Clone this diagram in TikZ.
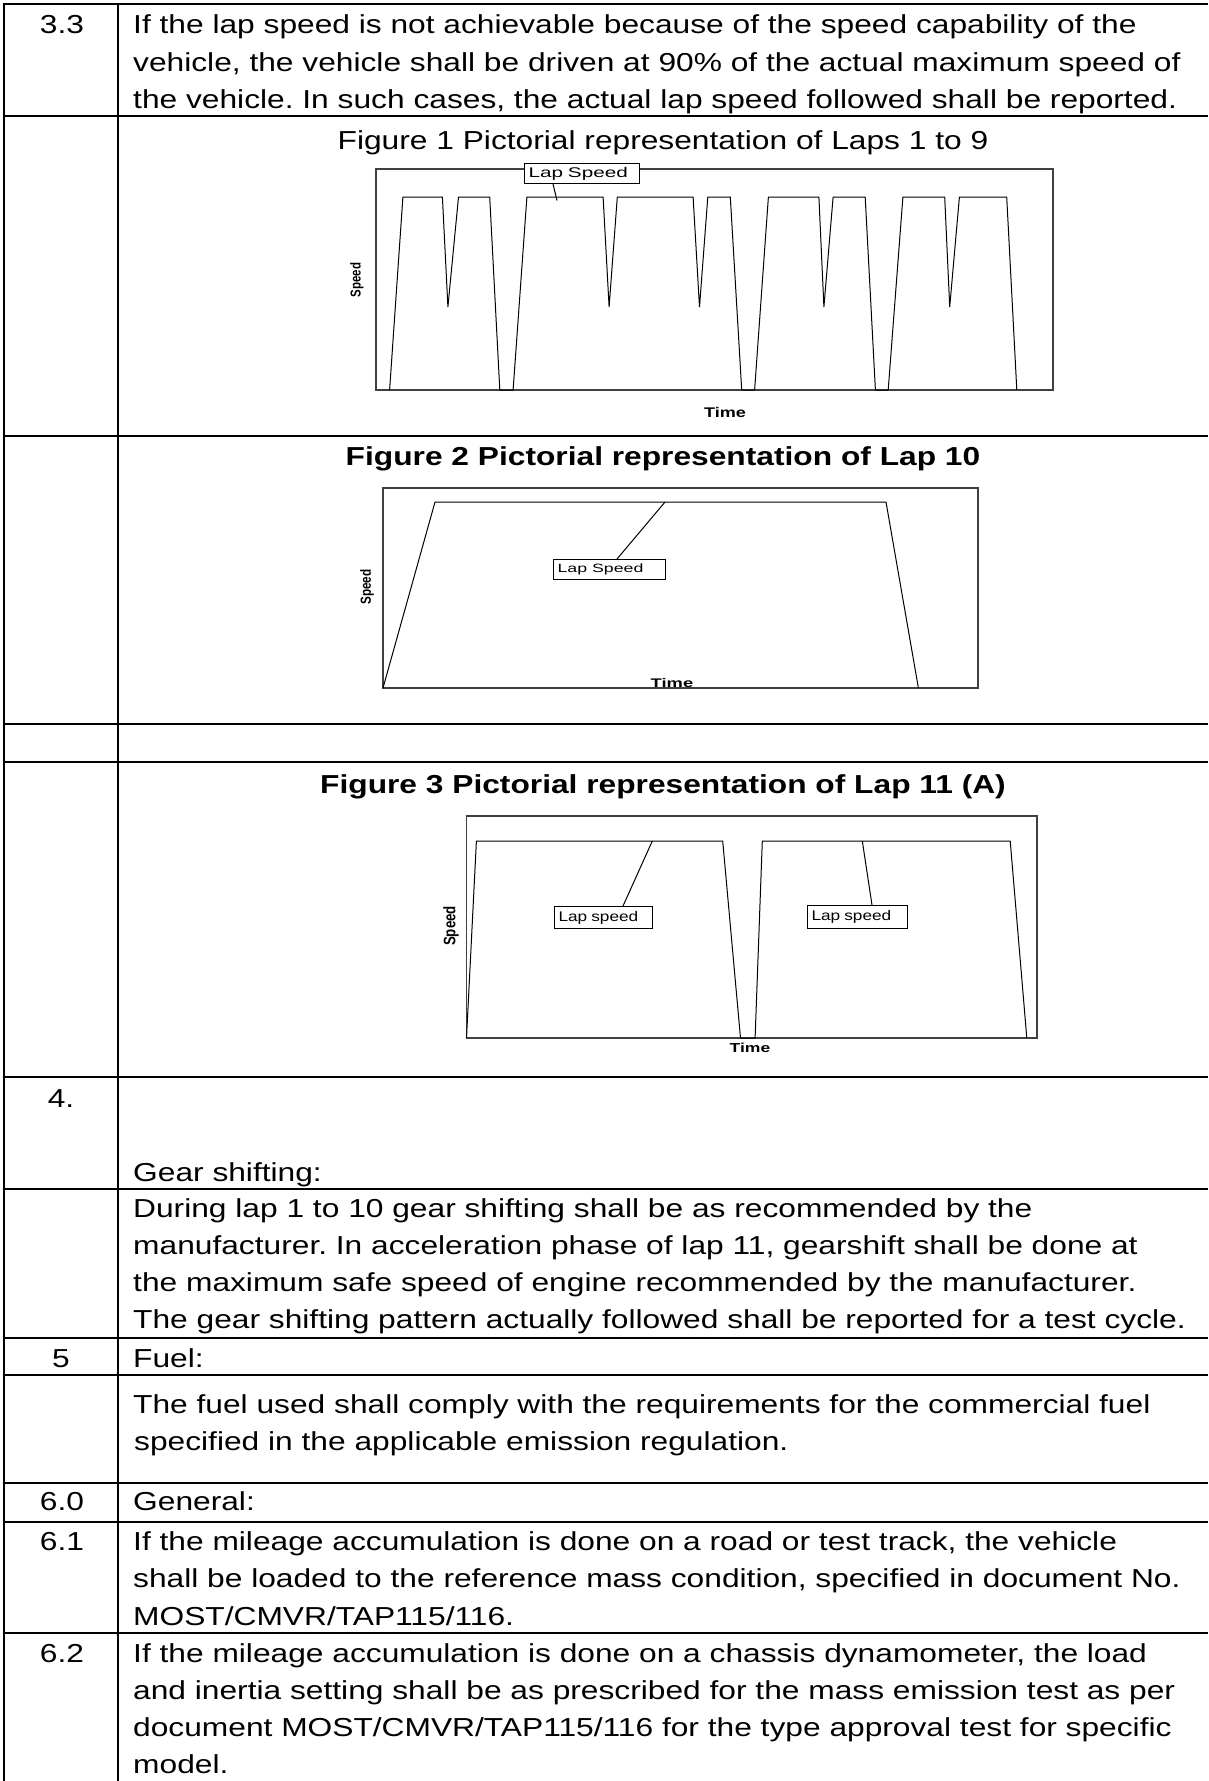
\documentclass[tikz,border=0pt]{standalone}
\usepackage{graphicx}
\usepackage{fontspec}
\setmainfont{Liberation Sans}[FakeStretch=1.22]
\newfontfamily\plainfont{Liberation Sans}
\newcommand\bodysize{\fontsize{26}{37}\selectfont}
\newcommand\chartlbl[3]{{\plainfont\fontsize{#2}{#2}\selectfont\scalebox{#1}[1]{#3}}}
\newcommand\chartbold[3]{{\plainfont\bfseries\fontsize{#2}{#2}\selectfont\scalebox{#1}[1]{#3}}}
\newcommand\axisspeed[1]{{\plainfont\bfseries\fontsize{#1}{#1}\selectfont\scalebox{1}[1.25]{Speed}}}
\frenchspacing
\tikzset{
  rule/.style={line width=2.2pt, black},
  body/.style={anchor=base west, inner sep=0pt, font=\bodysize},
  num/.style={anchor=base, inner sep=0pt, font=\bodysize},
  ftitle/.style={anchor=base, inner sep=0pt, font=\bodysize},
  chartbox/.style={draw=black!75, line width=1.3pt},
  trace/.style={draw=black, line width=1pt, line join=miter},
  lapbox/.style={draw=black, line width=1pt, fill=white, inner xsep=4pt, inner ysep=0pt, align=left, anchor=north west},
  leader/.style={draw=black, line width=1pt},
  axlbl/.style={inner sep=0pt},
}
\begin{document}
\begin{tikzpicture}[x=1pt, y=-1pt]
\useasboundingbox (0,0) rectangle (1208,1781);
\fill[white] (0,0) rectangle (1208,1781);

% ---------- table rules ----------
\draw[rule] (4,3) -- (4,1781);
\draw[rule] (118,4) -- (118,1781);
\draw[rule] (3,4) -- (1208,4);
\foreach \yy in {116,436,724,762,1077,1189,1338,1375,1483,1522,1633}
  \draw[rule] (4,\yy) -- (1208,\yy);

% ---------- row 3.3 ----------
\node[num] (n33) at (62,33) {3.3};
\node[body] (r1a) at (133,33) {If the lap speed is not achievable because of the speed capability of the};
\node[body] (r1b) at (133,71) {vehicle, the vehicle shall be driven at 90\% of the actual maximum speed of};
\node[body] (r1c) at (133,108) {the vehicle. In such cases, the actual lap speed followed shall be reported.};

% ---------- Figure 1 ----------
\node[ftitle] (f1t) at (663,149) {Figure 1 Pictorial representation of Laps 1 to 9};
\draw[chartbox] (376,169) rectangle (1053,390);
\draw[trace] (389.6,390) -- (402.9,197) -- (442.4,197) -- (447.9,307) -- (458.5,197)
  -- (489.7,197) -- (499.8,390) -- (513.1,390) -- (526.9,197) -- (603.1,197)
  -- (609.1,307) -- (617.3,197) -- (693.1,197) -- (699.5,307) -- (707.8,197)
  -- (730.3,197) -- (741.7,390) -- (754.6,390) -- (768.4,197) -- (818.9,197)
  -- (823.9,307) -- (833.1,197) -- (865.2,197) -- (875.4,390) -- (888.2,390)
  -- (902.9,197) -- (944.7,197) -- (949.7,307) -- (959.4,197) -- (1006.7,197)
  -- (1016.8,390);
\node[lapbox, text width=107pt, minimum height=20pt] (lb1) at (524,163) {\chartlbl{1.48}{14}{Lap Speed}};
\coordinate (lp1) at (557,200.5);
\draw[leader] (lb1.south west) ++(29,0) coordinate (lb1s) -- (lp1);
\node[axlbl, rotate=90] (sp1) at (357,280) {\axisspeed{11.5}};
\node[axlbl, anchor=base] (tm1) at (725,417) {\chartbold{1.29}{14}{Time}};

% ---------- Figure 2 ----------
\node[ftitle, font=\bodysize\bfseries] (f2t) at (663,465) {Figure 2 Pictorial representation of Lap 10};
\draw[chartbox] (383,488) rectangle (978,688);
\draw[trace] (383,688) -- (435,502) -- (886,502) -- (918.4,688);
\node[lapbox, text width=104pt, minimum height=20pt] (lb2) at (553,559) {\chartlbl{1.48}{12}{Lap Speed}};
\coordinate (lp2) at (665,502);
\draw[leader] (lb2.north west) ++(64,0) coordinate (lb2n) -- (lp2);
\node[axlbl, rotate=90] (sp2) at (367,587) {\axisspeed{11.7}};
\node[axlbl, anchor=base] (tm2) at (672,687) {\chartbold{1.47}{12.5}{Time}};

% ---------- Figure 3 ----------
\node[ftitle, font=\bodysize\bfseries] (f3t) at (663,793) {Figure 3 Pictorial representation of Lap 11 (A)};
\draw[chartbox] (466.5,816) rectangle (1037,1038);
\draw[trace] (466.5,1038) -- (476.4,841) -- (722.7,841) -- (740.5,1038) -- (755.1,1038)
  -- (762.3,841) -- (1010.2,841) -- (1026.8,1038);
\node[lapbox, text width=89.5pt, minimum height=22pt] (lb3) at (554,906) {\chartlbl{1.23}{14}{Lap speed}};
\node[lapbox, text width=91.5pt, minimum height=23pt] (lb4) at (807,905) {\chartlbl{1.23}{14}{Lap speed}};
\coordinate (lp3) at (652.3,841);
\coordinate (lp4) at (862.3,841);
\draw[leader] (lb3.north west) ++(69,0) coordinate (lb3n) -- (lp3);
\draw[leader] (lb4.north west) ++(65,0) coordinate (lb4n) -- (lp4);
\node[axlbl, rotate=90] (sp3) at (451,926) {\axisspeed{13.3}};
\node[axlbl, anchor=base] (tm3) at (750,1052) {\chartbold{1.35}{13}{Time}};

% ---------- row 4 ----------
\node[num] (n4) at (61,1107) {4.};
\node[body] (r4a) at (133,1181) {Gear shifting:};
\node[body] (r5a) at (133,1217) {During lap 1 to 10 gear shifting shall be as recommended by the};
\node[body] (r5b) at (133,1254) {manufacturer. In acceleration phase of lap 11, gearshift shall be done at};
\node[body] (r5c) at (133,1291) {the maximum safe speed of engine recommended by the manufacturer.};
\node[body] (r5d) at (133,1328) {The gear shifting pattern actually followed shall be reported for a test cycle.};

% ---------- row 5 ----------
\node[num] (n5) at (61,1367) {5};
\node[body] (r6a) at (133,1367) {Fuel:};
\node[body] (r7a) at (133,1413) {The fuel used shall comply with the requirements for the commercial fuel};
\node[body] (r7b) at (134,1450) {specified in the applicable emission regulation.};

% ---------- row 6 ----------
\node[num] (n60) at (62,1510) {6.0};
\node[body] (r8a) at (133,1510) {General:};
\node[num] (n61) at (62,1550) {6.1};
\node[body] (r9a) at (133,1550) {If the mileage accumulation is done on a road or test track, the vehicle};
\node[body] (r9b) at (133,1587) {shall be loaded to the reference mass condition, specified in document No.};
\node[body] (r9c) at (133,1625) {MOST/CMVR/TAP115/116.};
\node[num] (n62) at (62,1662) {6.2};
\node[body] (r10a) at (133,1662) {If the mileage accumulation is done on a chassis dynamometer, the load};
\node[body] (r10b) at (133,1699) {and inertia setting shall be as prescribed for the mass emission test as per};
\node[body] (r10c) at (133,1736) {document MOST/CMVR/TAP115/116 for the type approval test for specific};
\node[body] (r10d) at (133,1773) {model.};
\end{tikzpicture}
\end{document}
